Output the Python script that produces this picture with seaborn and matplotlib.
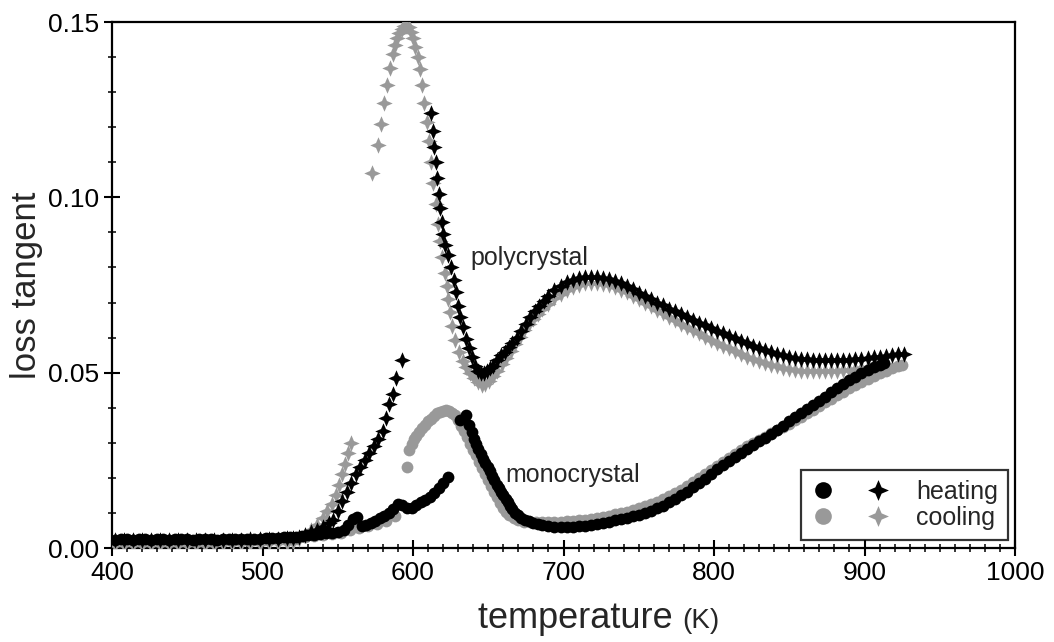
import numpy as np
import matplotlib
matplotlib.use("Agg")
import matplotlib.pyplot as plt
from matplotlib.path import Path
from matplotlib.legend_handler import HandlerTuple
from matplotlib.lines import Line2D
from matplotlib.ticker import MultipleLocator, FormatStrFormatter
import seaborn as sns

# ---------------- data: loss tangent vs temperature (K) ----------------
# monocrystal, heating
mono_heat_T = [
    402, 406, 410, 414, 418, 422, 426, 430, 434, 438,
    442, 446, 450, 454, 458, 462, 466, 470, 474, 478,
    482, 486, 490, 494, 498, 502, 506, 510, 514, 518,
    522, 526, 530, 534, 538, 542, 546, 550,
    554, 557, 560, 563, 566, 569, 572, 575, 578, 581,
    584, 587, 590, 593, 596, 599, 602, 605, 608, 611,
    614, 617, 620, 623,
    631, 635.5, 637.5, 639, 640.5, 642, 643.5, 645, 646.5, 648,
    649.5, 651, 652.5, 654, 655.5, 657, 658.5, 660, 661.5, 663,
    664.5, 666, 668, 670, 672, 674.5, 677, 680, 683, 686,
    690, 694, 698, 702, 706, 710, 714, 718, 722, 726,
    730, 734, 738, 742, 746, 750, 754, 758, 762, 766,
    770, 774, 778, 782, 786, 790, 794, 798, 802, 806,
    810, 814, 818, 822, 826, 830, 834, 838, 842, 846,
    850, 854, 858, 862, 866, 870, 874, 878, 882, 886,
    890, 894, 898, 902, 906, 910, 913,
]
mono_heat_tan = [
    .0024, .0026, .0025, .0024, .0026, .0025, .0024, .0026, .0025, .0024,
    .0025, .0026, .0025, .0024, .0025, .0026, .0025, .0024, .0025, .0026,
    .0025, .0026, .0027, .0026, .0027, .0028, .0028, .0029, .0030, .0031,
    .0032, .0034, .0036, .0038, .0040, .0042, .0044, .0047,
    .0052, .0065, .0082, .0089, .0064, .0066, .0070, .0076, .0085, .0092,
    .0100, .0112, .0125, .0122, .0115, .0113, .0122, .0130, .0138, .0146,
    .0157, .0170, .0185, .0202,
    .0365, .0378, .0350, .0330, .0312, .0296, .0282, .0268, .0255, .0243,
    .0231, .0220, .0206, .0193, .0180, .0170, .0160, .0150, .0140, .0130,
    .0120, .0110, .0100, .0093, .0087, .0081, .0076, .0072, .0068, .0066,
    .0063, .0061, .0060, .0060, .0061, .0062, .0064, .0066, .0069, .0072,
    .0075, .0079, .0082, .0086, .0090, .0095, .0100, .0106, .0113, .0121,
    .0130, .0140, .0150, .0161, .0173, .0185, .0198, .0211, .0224, .0236,
    .0248, .0260, .0272, .0283, .0294, .0305, .0315, .0326, .0337, .0349,
    .0361, .0373, .0385, .0396, .0408, .0420, .0432, .0444, .0456, .0467,
    .0478, .0489, .0499, .0508, .0516, .0523, .0527,
]

# monocrystal, cooling
mono_cool_T = [
    402, 408, 414, 420, 426, 432, 438, 444, 450, 456,
    462, 468, 474, 480, 486, 492, 498, 504, 510, 516,
    522, 528, 534, 540, 546, 552, 558, 564, 570, 576,
    582, 588,
    596, 597.5, 599, 600.5, 602, 604, 606, 608, 610, 612,
    614, 616, 618, 620, 622, 624, 626, 628, 630, 632,
    634, 636, 638, 640, 642, 644, 646, 648, 650, 652,
    654, 656, 658, 660, 662, 664, 667, 670, 674, 678,
    682, 686, 690, 694, 698, 702, 706, 710, 714, 718,
    722, 726, 730, 734, 738, 742, 746, 750, 754, 758,
    762, 766, 770, 774, 778, 782, 786, 790, 794, 798,
    802, 806, 810, 814, 818, 822, 826, 830, 834, 838,
    842, 846, 850, 854, 858, 862, 866, 870, 874, 878,
    882, 886, 890, 894, 898, 902, 906, 910, 914, 918,
    922, 925,
]
mono_cool_tan = [
    .0020, .0021, .0020, .0021, .0020, .0021, .0020, .0021, .0020, .0021,
    .0021, .0022, .0021, .0022, .0022, .0023, .0023, .0024, .0025, .0026,
    .0027, .0030, .0033, .0036, .0040, .0044, .0050, .0057, .0062, .0068,
    .0078, .0090,
    .0231, .0280, .0298, .0310, .0320, .0331, .0342, .0352, .0361, .0369,
    .0377, .0384, .0389, .0392, .0393, .0391, .0386, .0378, .0365, .0349,
    .0333, .0317, .0298, .0280, .0264, .0246, .0229, .0212, .0194, .0176,
    .0160, .0145, .0128, .0115, .0103, .0093, .0085, .0079, .0075, .0073,
    .0073, .0073, .0073, .0074, .0075, .0076, .0077, .0079, .0081, .0083,
    .0086, .0089, .0092, .0096, .0100, .0104, .0109, .0114, .0119, .0125,
    .0132, .0139, .0147, .0156, .0166, .0176, .0187, .0199, .0211, .0223,
    .0234, .0246, .0258, .0269, .0280, .0290, .0300, .0309, .0318, .0327,
    .0336, .0345, .0355, .0365, .0375, .0385, .0395, .0405, .0415, .0425,
    .0435, .0445, .0455, .0464, .0473, .0482, .0490, .0498, .0505, .0512,
    .0518, .0522,
]

# polycrystal, heating
poly_heat_T = [
    402, 408, 414, 420, 426, 432, 438, 444, 450, 456,
    462, 468, 474, 480, 486, 492, 498, 504, 510, 516,
    520, 524, 528, 532, 536, 540, 544, 547, 550, 553,
    556, 559, 562, 565, 568, 571, 574, 577, 580, 582,
    584, 586.5, 589, 592.5,
    612, 613, 614, 615, 616, 617, 618, 619, 620, 621.5,
    623, 625, 627, 628.5, 630, 631.5, 633, 635, 637, 639,
    641, 643, 645, 647, 649, 651, 653, 656, 658.5, 661,
    663.5, 666, 669, 672, 675, 678, 681, 684, 687, 690,
    694, 698, 702, 706, 710, 714, 718, 722, 726, 730,
    734, 738, 742, 746, 750, 754, 758, 762, 766, 770,
    774, 778, 782, 786, 790, 794, 798, 802, 806, 810,
    814, 818, 822, 826, 830, 834, 838, 842, 846, 850,
    854, 858, 862, 866, 870, 874, 878, 882, 886, 890,
    894, 898, 902, 906, 910, 914, 918, 922, 926,
]
poly_heat_tan = [
    .0022, .0022, .0023, .0022, .0022, .0023, .0022, .0023, .0022, .0023,
    .0023, .0023, .0024, .0024, .0024, .0025, .0025, .0026, .0027, .0028,
    .0029, .0032, .0038, .0045, .0052, .0060, .0070, .0080, .0105, .0135,
    .0160, .0185, .0210, .0230, .0250, .0270, .0290, .0310, .0335, .0370,
    .0410, .0440, .0485, .0535,
    .1240, .1190, .1145, .1100, .1055, .1010, .0970, .0930, .0895, .0865,
    .0835, .0800, .0765, .0730, .0690, .0660, .0630, .0595, .0570, .0545,
    .0520, .0505, .0498, .0500, .0505, .0513, .0520, .0536, .0550, .0560,
    .0573, .0585, .0600, .0620, .0640, .0660, .0675, .0690, .0705, .0720,
    .0735, .0748, .0758, .0765, .0769, .0772, .0773, .0772, .0769, .0766,
    .0762, .0755, .0747, .0738, .0728, .0718, .0709, .0700, .0692, .0683,
    .0675, .0667, .0659, .0651, .0643, .0635, .0627, .0619, .0612, .0605,
    .0598, .0591, .0584, .0577, .0571, .0565, .0559, .0554, .0550, .0546,
    .0543, .0540, .0538, .0537, .0536, .0535, .0535, .0535, .0536, .0537,
    .0538, .0540, .0542, .0544, .0546, .0548, .0550, .0552, .0554,
]

# polycrystal, cooling
poly_cool_T = [
    402, 408, 414, 420, 426, 432, 438, 444, 450, 456,
    462, 468, 474, 480, 486, 492, 498, 504, 510, 516,
    520, 524, 528, 532, 536, 540, 543, 546, 548.5, 551,
    553, 555, 557, 559,
    572.5, 576.5, 578.5, 580.5, 582.5, 584.5, 586.5, 588, 589.5, 591,
    592.5, 594, 595.5, 597, 598.5, 600, 601.5, 603, 604.5, 606,
    607.5, 609, 610.5, 612, 613.5, 615, 616.5, 618, 619.5, 621,
    622.5, 623.5, 624.5, 626, 628, 630.5, 633, 635.5, 638, 640.5,
    643, 645.5, 648, 650.5, 653, 656, 659, 662, 665, 668,
    671, 674, 677, 680, 683, 686, 690, 694, 698, 702,
    706, 710, 714, 718, 722, 726, 730, 734, 738, 742,
    746, 750, 754, 758, 762, 766, 770, 774, 778, 782,
    786, 790, 794, 798, 802, 806, 810, 814, 818, 822,
    826, 830, 834, 838, 842, 846, 850, 854, 858, 862,
    866, 870, 874, 878, 882, 886, 890, 894, 898, 902,
    906, 910,
]
poly_cool_tan = [
    .0008, .0009, .0008, .0009, .0008, .0009, .0009, .0010, .0009, .0010,
    .0010, .0010, .0011, .0011, .0011, .0012, .0012, .0013, .0014, .0015,
    .0018, .0025, .0038, .0050, .0065, .0085, .0105, .0125, .0150, .0180,
    .0210, .0240, .0270, .0300,
    .1070, .1150, .1210, .1270, .1320, .1370, .1410, .1435, .1455, .1470,
    .1480, .1488, .1490, .1485, .1472, .1455, .1430, .1400, .1365, .1320,
    .1270, .1215, .1160, .1100, .1040, .0980, .0925, .0875, .0830, .0785,
    .0748, .0710, .0672, .0632, .0592, .0558, .0533, .0515, .0498, .0484,
    .0472, .0466, .0468, .0476, .0490, .0506, .0524, .0542, .0562, .0582,
    .0603, .0622, .0638, .0654, .0668, .0681, .0697, .0712, .0725, .0736,
    .0745, .0751, .0755, .0757, .0756, .0753, .0749, .0744, .0737, .0729,
    .0720, .0710, .0700, .0690, .0680, .0670, .0660, .0650, .0640, .0630,
    .0621, .0612, .0603, .0594, .0585, .0577, .0569, .0561, .0553, .0546,
    .0539, .0533, .0527, .0522, .0518, .0514, .0511, .0508, .0506, .0505,
    .0504, .0504, .0504, .0505, .0506, .0507, .0509, .0511, .0513, .0515,
    .0518, .0521,
]

for a, b in [(mono_heat_T, mono_heat_tan), (mono_cool_T, mono_cool_tan),
             (poly_heat_T, poly_heat_tan), (poly_cool_T, poly_cool_tan)]:
    assert len(a) == len(b), (len(a), len(b))

sample_labels = ["polycrystal", "monocrystal"]
run_labels = ["heating", "cooling"]

# ---------------- styling ----------------
sns.set_theme(style="white")
plt.rcParams["font.family"] = ["Liberation Sans", "DejaVu Sans"]

BLACK = "#000000"
GREY = "#999999"

# four-pointed star with concave sides
r_in = 0.3
star = Path([(0, 1), (r_in, r_in), (1, 0), (r_in, -r_in), (0, -1),
             (-r_in, -r_in), (-1, 0), (-r_in, r_in), (0, 1)],
            [Path.MOVETO] + [Path.LINETO] * 7 + [Path.CLOSEPOLY])

fig = plt.figure(figsize=(10.54, 6.42), dpi=100)
ax = fig.add_axes([0.1063, 0.1464, 0.8567, 0.8193])

S_STAR = 140
S_DOT = 72
common = dict(ax=ax, linewidth=0, legend=False, zorder=3)
sns.scatterplot(x=poly_cool_T, y=poly_cool_tan, marker=star, s=S_STAR, color=GREY, **common)
sns.scatterplot(x=mono_cool_T, y=mono_cool_tan, marker="o", s=S_DOT, color=GREY, **common)
sns.scatterplot(x=poly_heat_T, y=poly_heat_tan, marker=star, s=S_STAR, color=BLACK, **common)
sns.scatterplot(x=mono_heat_T, y=mono_heat_tan, marker="o", s=S_DOT, color=BLACK, **common)

ax.set_xlim(400, 1000)
ax.set_ylim(0, 0.15)

ax.xaxis.set_major_locator(MultipleLocator(100))
ax.xaxis.set_minor_locator(MultipleLocator(10))
ax.yaxis.set_major_locator(MultipleLocator(0.05))
ax.yaxis.set_minor_locator(MultipleLocator(0.01))
ax.yaxis.set_major_formatter(FormatStrFormatter("%.2f"))

ax.tick_params(which="major", direction="inout", length=12, width=1.5,
               labelsize=19, colors="black", pad=3,
               bottom=True, left=True, top=False, right=False)
ax.tick_params(which="minor", direction="inout", length=6, width=1.3,
               bottom=True, left=True, top=False, right=False)
for sp in ax.spines.values():
    sp.set_visible(True)
    sp.set_color("black")
    sp.set_linewidth(1.6)

ax.set_ylabel("loss tangent", fontsize=25, labelpad=4)
ax.text(0.632, -0.152, "temperature ", transform=ax.transAxes,
        ha="right", va="baseline", fontsize=26)
ax.text(0.632, -0.152, "(K)", transform=ax.transAxes,
        ha="left", va="baseline", fontsize=20)

ax.text(638, 0.0827, sample_labels[0], ha="left", va="center", fontsize=18)
ax.text(661, 0.0208, sample_labels[1], ha="left", va="center", fontsize=18)

# legend: circle + star per run
handles = []
for col in (BLACK, GREY):
    dot = Line2D([], [], linestyle="none", marker="o", markersize=12,
                 markerfacecolor=col, markeredgewidth=0)
    st = Line2D([], [], linestyle="none", marker=star, markersize=15,
                markerfacecolor=col, markeredgewidth=0)
    handles.append((dot, st))
leg = ax.legend(handles, run_labels, handler_map={tuple: HandlerTuple(ndivide=None, pad=1.2)},
                loc="lower right", bbox_to_anchor=(0.992, 0.015), borderaxespad=0,
                fontsize=18, frameon=True, fancybox=False, handlelength=3.2,
                handletextpad=1.0, labelspacing=0.1, borderpad=0.4)
leg.get_frame().set_edgecolor("black")
leg.get_frame().set_linewidth(1.6)
leg.set_zorder(5)

fig.savefig("out.png", dpi=100, facecolor="white")
